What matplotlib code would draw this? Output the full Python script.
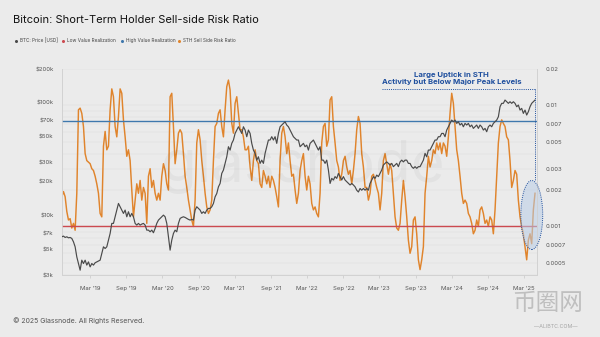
import numpy as np
import pandas as pd
import matplotlib
matplotlib.use("Agg")
import matplotlib.pyplot as plt
import matplotlib.dates as mdates
from matplotlib.lines import Line2D
from matplotlib.patches import Ellipse
from matplotlib.ticker import FixedLocator, NullFormatter, NullLocator

plt.rcParams['font.family'] = ['Inter', 'DejaVu Sans']

# weekly-ish samples, Oct 2018 -> Apr 2025
dates = pd.date_range('2018-10-10', '2025-04-26', periods=285)

btc_price = [
    6540, 6630, 6450, 6540, 6400, 6450, 6320, 5900, 5330, 4340,
    3790, 3310, 4060, 3790, 4060, 3670, 3920, 3540, 3790, 3670,
    3850, 3920, 4000, 4060, 4650, 5330, 5150, 5330, 6110, 7000,
    8590, 8590, 9830, 11270, 12900, 12060, 11270, 10530, 11270, 9830,
    10890, 9830, 10530, 9830, 8590, 8300, 8590, 8300, 8470, 8590,
    8300, 7490, 7490, 7240, 7490, 7100, 7750, 8590, 9190, 9510,
    9830, 10170, 9830, 8590, 6540, 4980, 6110, 7000, 7490, 7240,
    8590, 9510, 9700, 9830, 9700, 9510, 9320, 9190, 9320, 9190,
    11270, 12060, 11660, 11270, 10530, 10890, 10530, 11270, 11660, 11660,
    12060, 12900, 14770, 15800, 18100, 19400, 23800, 25500, 29200, 33400,
    41000, 38300, 43900, 47000, 53800, 57600, 61600, 57600, 53800, 61600,
    57600, 50300, 57600, 53800, 43900, 38300, 35800, 31200, 33400, 29200,
    31200, 29200, 35800, 41000, 47000, 47000, 50300, 47000, 50300, 43900,
    53800, 61600, 63800, 66000, 68200, 63800, 61600, 57600, 53800, 50300,
    48600, 47000, 47000, 41000, 42400, 43900, 41000, 42400, 38300, 43900,
    45400, 47000, 43900, 41000, 38300, 41000, 31200, 31200, 29200, 31200,
    25500, 19400, 21500, 20800, 22300, 21500, 23800, 22300, 20800, 22300,
    20800, 20100, 19400, 18800, 19400, 18800, 18100, 16900, 16300, 17500,
    16900, 17500, 16900, 17500, 16900, 19400, 20800, 22300, 21500, 23000,
    22300, 23800, 25500, 28200, 29200, 30100, 29200, 28200, 29200, 27300,
    28200, 29200, 27300, 30100, 31200, 30100, 31200, 31200, 29200, 29200,
    27300, 26400, 27300, 26400, 27300, 27300, 29200, 31200, 35800, 33400,
    38300, 38300, 41000, 43900, 47000, 47000, 50300, 50300, 53800, 53800,
    50300, 57600, 61600, 66000, 70600, 68200, 70600, 66000, 68200, 63800,
    66000, 61600, 66000, 63800, 66000, 61600, 63800, 59600, 61600, 63800,
    59600, 63800, 61600, 57600, 59600, 55700, 61600, 63800, 61600, 66000,
    68200, 70600, 75500, 92700, 99300, 99300, 106200, 102600, 99300, 102600,
    99300, 102600, 99300, 92700, 95900, 86600, 89600, 80900, 86600, 78200,
    83700, 92700, 99300, 102600, 106200,
]

sth_ratio = [
    .00176, .00194, .00176, .00133, .00113, .00116, .00097, .00106, .00093, .00188,
    .0092, .0095, .0086, .0067, .0040, .0035, .0034, .0033, .0030, .0029,
    .0026, .00225, .00188, .00128, .0012, .0046, .0061, .0043, .0046, .0092,
    .0137, .0118, .0067, .0055, .0081, .0137, .0126, .0076, .0055, .0038,
    .0043, .0035, .0020, .0012, .00165, .00225, .00188, .0024, .00165, .0021,
    .00188, .00106, .0026, .0030, .0021, .0024, .00188, .00165, .00188, .00165,
    .0026, .0033, .0029, .00225, .0020, .0118, .0126, .0067, .0033, .0043,
    .0059, .0063, .0059, .0040, .0026, .0021, .00165, .00137, .00113, .0010,
    .00165, .0049, .0063, .0052, .0035, .0026, .00188, .00145, .00128, .00137,
    .00165, .0035, .0067, .0071, .0086, .0092, .0067, .0055, .0092, .0143,
    .0162, .0134, .0071, .0059, .0104, .0118, .0086, .0063, .0063, .0055,
    .0043, .0043, .0046, .0031, .0024, .0035, .0043, .0035, .0033, .00225,
    .0021, .0029, .0026, .00225, .0026, .0021, .0026, .0024, .0021, .00176,
    .00145, .0035, .0059, .0067, .0055, .0040, .0049, .0035, .0026, .0027,
    .0020, .00155, .00188, .0029, .0035, .0040, .0026, .0020, .0026, .00225,
    .00155, .00137, .00145, .00128, .0012, .00188, .0049, .0067, .0071, .0046,
    .0052, .0111, .0118, .0067, .0049, .0035, .0031, .0024, .0027, .0035,
    .0038, .0031, .0027, .0029, .00225, .0029, .0040, .0063, .0081, .0071,
    .0040, .0031, .0021, .0021, .00165, .00188, .0026, .0027, .0024, .0021,
    .00188, .00137, .00188, .0035, .0040, .0033, .0027, .0033, .0029, .00188,
    .0012, .00097, .00093, .00106, .00165, .0024, .00176, .0012, .00077, .0006,
    .00068, .00113, .0012, .00087, .00053, .00044, .00053, .00068, .00188, .0026,
    .0038, .0031, .0035, .0043, .0040, .0049, .0043, .0049, .0040, .0049,
    .0046, .0038, .0055, .0086, .0126, .0104, .0067, .0043, .0035, .0026,
    .00188, .00155, .00165, .00155, .00128, .0012, .00106, .00087, .00093, .00113,
    .0010, .00137, .00145, .00128, .00106, .00113, .0010, .0012, .00113, .00087,
    .00137, .0026, .0049, .0067, .0076, .0071, .0067, .0055, .0052, .0035,
    .0021, .0024, .0029, .0027, .00165, .0012, .0010, .00087, .00068, .00053,
    .00077, .00087, .00072, .00137, .00188,
]

low_value = 0.001
high_value = 0.0075

price_ticks = [3000, 5000, 7000, 10000, 20000, 30000, 50000, 70000, 100000, 200000]
price_labels = ['$3k', '$5k', '$7k', '$10k', '$20k', '$30k', '$50k', '$70k', '$100k', '$200k']
ratio_ticks = [0.0005, 0.0007, 0.001, 0.002, 0.003, 0.005, 0.007, 0.01, 0.02]
ratio_labels = ['0.0005', '0.0007', '0.001', '0.002', '0.003', '0.005', '0.007', '0.01', '0.02']

BG = '#ebebeb'
C_BTC = '#4a4a4a'
C_LOW = '#cc4a50'
C_HIGH = '#3f78ad'
C_STH = '#e0842c'
C_NOTE = '#1f4f9e'
C_TICK = '#555555'

fig = plt.figure(figsize=(6, 3.37), dpi=100, facecolor=BG)
ax = fig.add_axes([62 / 600, 1 - 275 / 337, 475 / 600, 206 / 337])
ax.set_facecolor(BG)
ax2 = ax.twinx()

# price on the left, drawn above the ratio axis
ax.set_zorder(ax2.get_zorder() + 1)
ax.patch.set_visible(False)
ax2.set_facecolor(BG)

ax.plot(dates, btc_price, color=C_BTC, lw=0.85, zorder=3)
ax.set_yscale('log')
ax.set_ylim(3000, 200000)
ax.yaxis.set_major_locator(FixedLocator(price_ticks))
ax.set_yticklabels(price_labels)
ax.yaxis.set_minor_locator(NullLocator())
ax.yaxis.set_minor_formatter(NullFormatter())

ax2.plot(dates, sth_ratio, color=C_STH, lw=1.05, zorder=2)
ax2.axhline(low_value, color=C_LOW, lw=1.0, zorder=3)
ax2.axhline(high_value, color=C_HIGH, lw=1.0, zorder=3)
ax2.set_yscale('log')
ax2.set_ylim(0.000397, 0.02)
ax2.yaxis.set_major_locator(FixedLocator(ratio_ticks))
ax2.set_yticklabels(ratio_labels)
ax2.yaxis.set_minor_formatter(NullFormatter())
ax2.grid(True, which='both', axis='y', color='#dcdcdc', lw=0.35, zorder=0)
ax2.set_axisbelow(True)

ax.set_xlim(pd.Timestamp('2018-10-11'), pd.Timestamp('2025-05-06'))
ax.xaxis.set_major_locator(mdates.MonthLocator(bymonth=[3, 9]))
ax.xaxis.set_major_formatter(mdates.DateFormatter("%b '%y"))

for a in (ax, ax2):
    a.spines['top'].set_visible(False)
    for s in ('left', 'right', 'bottom'):
        a.spines[s].set_color('#d2d2d2')
        a.spines[s].set_linewidth(0.6)

ax.tick_params(axis='y', length=0, pad=6, labelsize=4.3, labelcolor=C_TICK)
ax2.tick_params(axis='y', which='both', length=0, pad=6, labelsize=4.3, labelcolor=C_TICK)
ax.tick_params(axis='x', length=2, width=0.5, color='#c8c8c8', pad=6, labelsize=4.3, labelcolor=C_TICK)

# faint brand mark behind the lines
fig.text(0.505, 0.505, 'glassnode', fontsize=42, color='#000000', alpha=0.035,
         ha='center', va='center', zorder=0)

# callout: dotted leader and highlight around the latest readings
ax.text(0.82, 0.985, 'Large Uptick in STH\nActivity but Below Major Peak Levels',
        transform=ax.transAxes, ha='center', va='top', fontsize=5.6,
        fontweight='bold', color=C_NOTE, linespacing=1.15, zorder=6)
ax.plot([0.674, 0.996], [0.903, 0.903], transform=ax.transAxes, color=C_NOTE,
        lw=0.7, ls=(0, (1, 1.2)), clip_on=False, zorder=6)
ax.plot([0.996, 0.996], [0.903, 0.456], transform=ax.transAxes, color=C_NOTE,
        lw=0.7, ls=(0, (1, 1.2)), clip_on=False, zorder=6)
ax.add_patch(Ellipse((0.989, 0.291), 0.046, 0.335, transform=ax.transAxes,
                     facecolor='#b9cde6', alpha=0.55, edgecolor='none',
                     clip_on=False, zorder=1))
ax.add_patch(Ellipse((0.989, 0.291), 0.046, 0.335, transform=ax.transAxes,
                     facecolor='none', edgecolor=C_NOTE, lw=0.7,
                     ls=(0, (1, 1.2)), clip_on=False, zorder=6))

# title, legend row and footer
fig.text(13 / 600, 1 - 20 / 337, 'Bitcoin: Short-Term Holder Sell-side Risk Ratio',
         fontsize=8, color='#111111', va='center', ha='left')
legend_items = [
    (16, 'BTC: Price [USD]', C_BTC),
    (63, 'Low Value Realization', C_LOW),
    (122, 'High Value Realization', C_HIGH),
    (179, 'STH Sell Side Risk Ratio', C_STH),
]
ly = 1 - 40.7 / 337
for x, label, col in legend_items:
    fig.add_artist(Line2D([x / 600], [ly], marker='o', markersize=2.2,
                          color=col, markeredgewidth=0, transform=fig.transFigure))
    fig.text((x + 4) / 600, ly, label, fontsize=3.4, color='#444444',
             va='center', ha='left')

fig.text(13 / 600, 1 - 321 / 337, '\u00a9 2025 Glassnode. All Rights Reserved.',
         fontsize=5, color='#555555', va='center', ha='left')

# reposting site mark, bottom right
fig.text(548 / 600, 1 - 303 / 337, '币圈网', fontsize=17, color='#8a8a8a', alpha=0.45,
         ha='center', va='center', family=['Noto Sans CJK SC', 'DejaVu Sans'])
fig.text(556 / 600, 1 - 327 / 337, '\u2014ALIBTC.COM\u2014', fontsize=3.8, color='#777777',
         alpha=0.6, ha='center', va='center')

fig.savefig('out.png', dpi=100, facecolor=BG)
